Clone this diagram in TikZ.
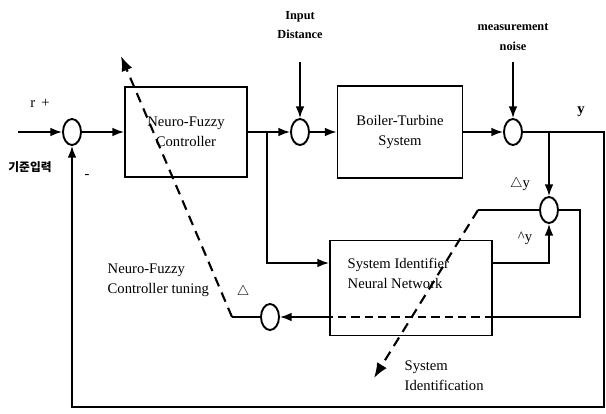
\documentclass[tikz,border=0pt]{standalone}
\usepackage{amsmath,amssymb}
\usepackage{fontspec}
\setmainfont{Liberation Serif}
\newfontfamily\krfont{Noto Sans CJK KR}
\usepackage{tikz}
\usetikzlibrary{arrows.meta,shapes.geometric}
\begin{document}
\begin{tikzpicture}[x=0.03cm,y=-0.03cm,line width=1.4pt,
  every node/.style={font=\fontsize{12.5}{17}\selectfont},
  sumj/.style={draw,ellipse,minimum width=0.54cm,minimum height=0.78cm,inner sep=0pt,line width=1.6pt},
  blockbox/.style={draw,align=center,inner sep=0pt,line width=1.6pt},
  toplbl/.style={align=center,font=\bfseries\fontsize{10.5}{17}\selectfont},
  sig/.style={-{Latex[length=3.5mm,width=2.6mm]}},
  tune/.style={dash pattern=on 3mm off 2mm,line width=1.8pt,-{Latex[length=4.5mm,width=3.4mm]}}]
\useasboundingbox (0,0) rectangle (606,413);
\node[sumj] (j1) at (72,132) {};
\node[blockbox,minimum width=3.66cm,minimum height=2.7cm] (nfc) at (186,132) {Neuro-Fuzzy\\Controller};
\node[sumj] (j2) at (300,132) {};
\node[blockbox,minimum width=3.75cm,minimum height=2.76cm] (bts) at (400,132) {Boiler-Turbine\\System};
\node[sumj] (j3) at (513,132) {};
\node[sumj] (j4) at (549,210) {};
\node[blockbox,minimum width=4.86cm,minimum height=2.85cm] (sid) at (411,288) {};
\node[align=left,anchor=west] (sidtxt) at (343,273) {System Identifier\\Neural Network};
\node[sumj] (j5) at (270,317) {};
\coordinate (rin) at (18,132);
\coordinate (dist) at (300,62);
\coordinate (noise) at (513,62);
\coordinate (utap) at (267,132);
\coordinate (ytap) at (549,132);
\coordinate (yout) at (604,132);
\coordinate (ybot) at (604,407);
\coordinate (fbl) at (72,407);
\coordinate (ec1) at (580,210);
\coordinate (ec2) at (580,317);
\coordinate (nft) at (232,317);
\coordinate (nfend) at (121,56);
\coordinate (sit) at (478,210);
\coordinate (siend) at (374,378);
\draw[sig] (rin) -- (j1);
\draw[sig] (j1) -- (nfc);
\draw[sig] (nfc) -- (j2);
\draw[sig] (j2) -- (bts);
\draw[sig] (bts) -- (j3);
\draw[sig] (dist) -- (j2);
\draw[sig] (noise) -- (j3);
\draw[sig] (j3) -- (yout) -- (ybot) -- (fbl) -- (j1);
\draw[sig] (ytap) -- (j4);
\draw[sig] (utap) |- ([yshift=0.75cm]sid.west);
\draw[sig] ([yshift=0.75cm]sid.east) -| (j4);
\draw (j4) -- (ec1) -- (ec2) -- (ec2 -| sid.east);
\draw[dash pattern=on 2.5mm off 1.5mm] (ec2 -| sid.east) -- (ec2 -| sid.west);
\draw[sig] (ec2 -| sid.west) -- (j5);
\draw (j5) -- (nft);
\draw[tune] (nft) -- (nfend);
\draw (j4) -- (sit);
\draw[tune] (sit) -- (siend);
\node (rlab) at (40,103) {r\, +};
\node (minus) at (87,176) {-};
\node[font=\krfont\bfseries\fontsize{10}{12}\selectfont] (krlab) at (30,167) {기준입력};
\node[toplbl] (inlab) at (300,25) {Input\\Distance};
\node[toplbl] (noiselab) at (513,37) {measurement\\noise};
\node (ylab) at (581,112) {\textbf{y}};
\node (dylab) at (520,184) {$\triangle$y};
\node (yhlab) at (525,238) {\^{}y};
\node (dlab) at (243,292) {$\bigtriangleup$};
\node[align=left,anchor=west] (nftlab) at (103,280) {Neuro-Fuzzy\\Controller tuning};
\node[align=left,anchor=west] (sidlab) at (400,376) {System\\Identification};
\end{tikzpicture}
\end{document}
